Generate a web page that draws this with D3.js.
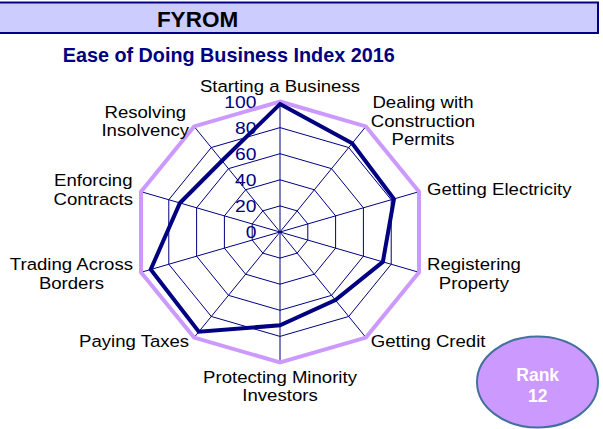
<!DOCTYPE html>
<html>
<head>
<meta charset="utf-8">
<script src="https://cdn.jsdelivr.net/npm/d3@7"></script>
<style>
  html, body { margin: 0; padding: 0; background: #ffffff; }
  svg { display: block; font-family: "Liberation Sans", Arial, Helvetica, sans-serif; }
</style>
</head>
<body>
<svg id="chart" width="603" height="429"></svg>
<script>
// ---- data ----
const countryTitle = "FYROM";
const chartTitle = "Ease of Doing Business Index 2016";
const categories = [
  "Starting a Business", "Dealing with Construction Permits", "Getting Electricity",
  "Registering Property", "Getting Credit", "Protecting Minority Investors",
  "Paying Taxes", "Trading Across Borders", "Enforcing Contracts", "Resolving Insolvency"
];
const categoryLines = [
  ["Starting a Business"], ["Dealing with", "Construction", "Permits"], ["Getting Electricity"],
  ["Registering", "Property"], ["Getting Credit"], ["Protecting Minority", "Investors"],
  ["Paying Taxes"], ["Trading Across", "Borders"], ["Enforcing", "Contracts"], ["Resolving", "Insolvency"]
];
const scoreValues = [98, 84, 82, 74, 64.5, 71.5, 94.5, 93, 72, 67.5];
const frontierValues = [100, 100, 100, 100, 100, 100, 100, 100, 100, 100];
const tickValues = [0, 20, 40, 60, 80, 100];
const rankLabel = ["Rank", "12"];

// ---- layout ----
const svg = d3.select("#chart");
const W = 603;
const sx = 1.12;           // chart object is stretched horizontally
const cx = 280, cy = 232;
const R = 130.5;

// header band
svg.append("rect")
  .attr("x", -3).attr("y", 2.5).attr("width", 601).attr("height", 30.5)
  .attr("fill", "#CCCCFF").attr("stroke", "#000080").attr("stroke-width", 2);
svg.append("text")
  .attr("x", 197.5).attr("y", 26.5)
  .attr("text-anchor", "middle")
  .attr("font-size", 22.5).attr("font-weight", "bold").attr("fill", "#000000")
  .text(countryTitle);
svg.append("text")
  .attr("x", 228.7).attr("y", 62.3)
  .attr("text-anchor", "middle")
  .attr("font-size", 19.8).attr("font-weight", "bold").attr("fill", "#000080")
  .text(chartTitle);

const g = svg.append("g").attr("transform", `translate(${cx},${cy}) scale(${sx},1)`);

const r = d3.scaleLinear().domain([0, 100]).range([0, R]);
const n = categories.length;
const angle = d3.scalePoint().domain(d3.range(n + 1)).range([0, 2 * Math.PI]);
const ang = i => angle(i);

const radial = d3.lineRadial()
  .angle((d, i) => ang(i))
  .radius(d => r(d))
  .curve(d3.curveLinearClosed);

// grid rings
g.append("g").selectAll("path")
  .data(tickValues.filter(t => t > 0))
  .join("path")
  .attr("d", t => radial(d3.range(n).map(() => t)))
  .attr("fill", "none")
  .attr("stroke", "#000080")
  .attr("stroke-width", 1)
  .attr("vector-effect", "non-scaling-stroke");

// spokes
g.append("g").selectAll("line")
  .data(d3.range(n))
  .join("line")
  .attr("x1", 0).attr("y1", 0)
  .attr("x2", i => r(100) * Math.sin(ang(i)))
  .attr("y2", i => -r(100) * Math.cos(ang(i)))
  .attr("stroke", "#000080")
  .attr("stroke-width", 1)
  .attr("vector-effect", "non-scaling-stroke");

// tick labels
g.append("g").selectAll("text")
  .data(tickValues)
  .join("text")
  .attr("x", -21)
  .attr("y", t => -r(t) + 6)
  .attr("text-anchor", "end")
  .attr("font-size", 17.2)
  .attr("fill", "#000080")
  .text(t => t);

// series
g.append("path")
  .attr("d", radial(frontierValues))
  .attr("fill", "none")
  .attr("stroke", "#CC99FF")
  .attr("stroke-width", 4)
  .attr("stroke-linejoin", "miter")
  .attr("vector-effect", "non-scaling-stroke");

g.append("path")
  .attr("d", radial(scoreValues))
  .attr("fill", "none")
  .attr("stroke", "#000080")
  .attr("stroke-width", 4)
  .attr("stroke-linejoin", "miter")
  .attr("vector-effect", "non-scaling-stroke");

// category labels
const fs = 16.6, lineH = 18.3, capH = 0.716 * fs;
const labels = g.append("g");
categoryLines.forEach((lines, i) => {
  const a = ang(i);
  const s = Math.sin(a), c = Math.cos(a);
  const vx = r(100) * s, vy = -r(100) * c;
  const t = labels.append("text")
    .attr("font-size", fs).attr("fill", "#000000").attr("text-anchor", "middle");
  const spans = lines.map(l => t.append("tspan").text(l));
  const maxW = d3.max(spans, sp => sp.node().getComputedTextLength());
  let x, y0;
  if (Math.abs(s) < 0.01) {
    x = vx;
    if (c > 0) y0 = vy - 9.8 - (lines.length - 1) * lineH;
    else y0 = vy + 20.2;
  } else {
    const gap = 8.4 * Math.abs(s) / sx;
    x = s > 0 ? vx + gap + maxW / 2 : vx - gap - maxW / 2;
    const yc = vy + (c > 0 ? -7 * c : -4 * c);
    y0 = yc - (lines.length - 1) * lineH / 2 + capH / 2;
  }
  spans.forEach((sp, k) => sp.attr("x", x).attr("y", y0 + k * lineH));
});

// rank bubble
svg.append("ellipse")
  .attr("cx", 537.5).attr("cy", 382).attr("rx", 60.5).attr("ry", 45.5)
  .attr("fill", "#CC99FF").attr("stroke", "#41719C").attr("stroke-width", 2);
svg.append("g").selectAll("text")
  .data(rankLabel)
  .join("text")
  .attr("x", 537.7)
  .attr("y", (d, i) => 380.7 + i * 21)
  .attr("text-anchor", "middle")
  .attr("font-size", 17.5).attr("font-weight", "bold").attr("fill", "#ffffff")
  .text(d => d);
</script>
</body>
</html>
